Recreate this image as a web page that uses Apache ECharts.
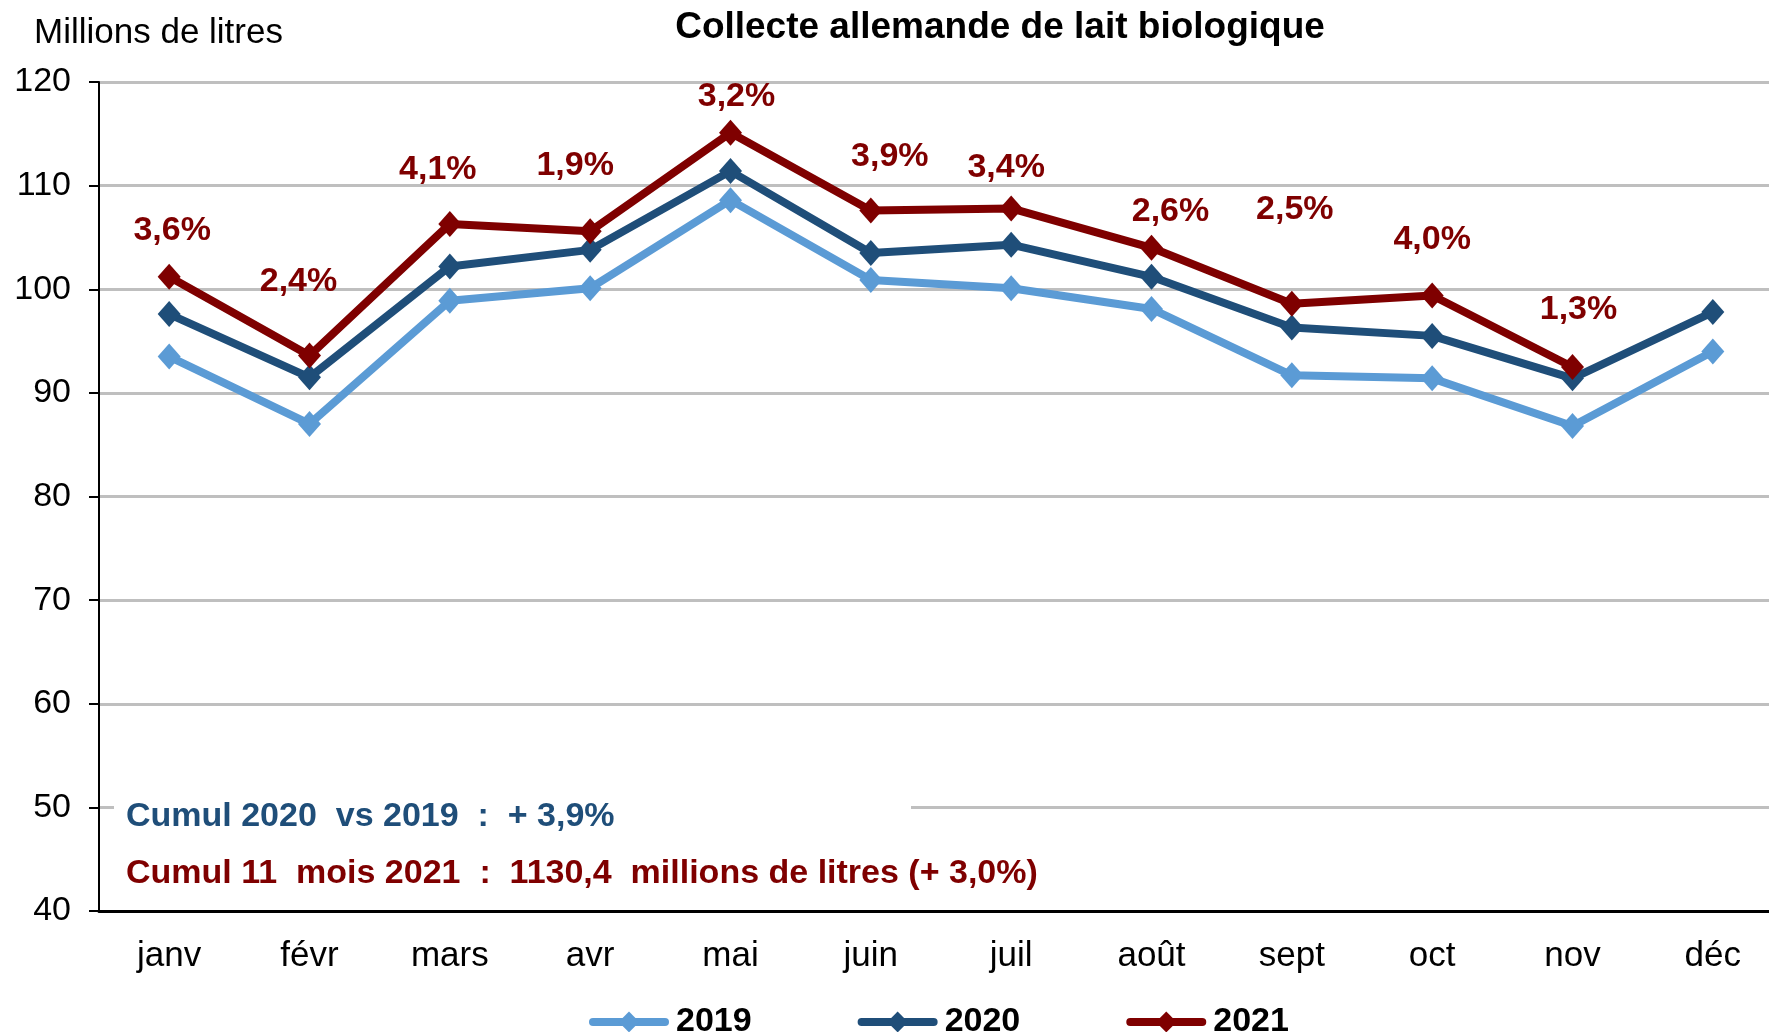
<!DOCTYPE html>
<html>
<head>
<meta charset="utf-8">
<title>Collecte allemande de lait biologique</title>
<script src="https://cdn.jsdelivr.net/npm/echarts@6/dist/echarts.min.js"></script>
<style>
  html, body { margin: 0; padding: 0; background: #fff; overflow: hidden; }
  /* the plot runs a little past the right edge of the picture, as in the source */
  #chart { width: 1783px; height: 1032px; }
</style>
</head>
<body>
<div id="chart"></div>
<script>
// data
const months = ['janv', 'févr', 'mars', 'avr', 'mai', 'juin', 'juil', 'août', 'sept', 'oct', 'nov', 'déc']
const lait2019 = [93.5, 87.0, 98.9, 100.1, 108.6, 100.9, 100.1, 98.1, 91.7, 91.4, 86.8, 94.0]
const lait2020 = [97.6, 91.5, 102.2, 103.8, 111.4, 103.5, 104.3, 101.2, 96.3, 95.5, 91.4, 97.8]
const lait2021 = [101.2, 93.6, 106.3, 105.6, 115.1, 107.6, 107.8, 104.0, 98.6, 99.4, 92.5, null]
const evol2021 = ['3,6%', '2,4%', '4,1%', '1,9%', '3,2%', '3,9%', '3,4%', '2,6%', '2,5%', '4,0%', '1,3%', '']
const yTicks = [40, 50, 60, 70, 80, 90, 100, 110, 120]

// where each % label sits relative to its point (layout only, in px)
const labelShift = [[3, -46], [-11, -74], [-12, -54], [-15, -66], [6, -36], [19, -54],
  [-5, -41], [19, -36], [3, -94], [0, -56], [6, -57], [0, 0]]

const colors = { y2019: '#5B9BD5', y2020: '#1F4E79', y2021: '#7F0000' }
const font = '"Liberation Sans", Arial, sans-serif'

const chart = echarts.init(document.getElementById('chart'))

function lineSeries (name, values, color) {
  return {
    name: name,
    type: 'line',
    data: values,
    symbol: 'diamond',
    symbolSize: [23, 26],
    lineStyle: { color: color, width: 8, cap: 'round', join: 'round' },
    itemStyle: { color: color },
    animation: false
  }
}

const s2021 = lineSeries('2021', lait2021.map((v, i) => ({
  value: v,
  label: {
    show: v !== null,
    formatter: evol2021[i],
    offset: labelShift[i]
  }
})), colors.y2021)
s2021.label = {
  position: 'inside',
  color: colors.y2021,
  fontFamily: font,
  fontWeight: 'bold',
  fontSize: 34
}

chart.setOption({
  backgroundColor: '#fff',
  textStyle: { fontFamily: font },
  title: {
    text: 'Collecte allemande de lait biologique',
    left: 995,
    top: 4,
    textAlign: 'center',
    textStyle: { fontFamily: font, fontSize: 37, fontWeight: 'bold', color: '#000' }
  },
  grid: {
    left: 99,
    top: 82,
    right: 0,
    height: 829
  },
  legend: {
    left: 584,
    top: 1000,
    itemWidth: 72,
    itemHeight: 26,
    itemGap: 106,
    lineStyle: { width: 8, cap: 'round' },
    textStyle: { fontFamily: font, fontSize: 34, fontWeight: 'bold', color: '#000', padding: [0, 0, 0, 6] },
    data: ['2019', '2020', '2021']
  },
  xAxis: {
    type: 'category',
    data: months,
    boundaryGap: true,
    axisLine: { lineStyle: { color: '#000', width: 3 } },
    axisTick: { length: 14, lineStyle: { color: '#000', width: 2 } },
    axisLabel: { color: '#000', fontSize: 35, fontFamily: font, margin: 28 }
  },
  yAxis: {
    type: 'value',
    min: yTicks[0],
    max: yTicks[yTicks.length - 1],
    interval: 10,
    name: 'Millions de litres',
    nameLocation: 'end',
    nameGap: 31,
    nameTextStyle: { color: '#000', fontSize: 35, fontFamily: font, align: 'left', padding: [0, 0, 0, -65] },
    axisLine: { show: true, lineStyle: { color: '#000', width: 2 } },
    axisTick: { show: true, length: 10, lineStyle: { color: '#000', width: 2 } },
    axisLabel: { color: '#000', fontSize: 34, fontFamily: font, margin: 28 },
    splitLine: { lineStyle: { color: '#BFBFBF', width: 3 } }
  },
  graphic: [
    {
      type: 'rect',
      z: 100,
      shape: { x: 114, y: 786, width: 797, height: 112 },
      style: { fill: '#fff' }
    },
    {
      type: 'text',
      z: 101,
      left: 126,
      top: 800,
      style: { text: 'Cumul 2020  vs 2019  :  + 3,9%', fill: colors.y2020, font: 'bold 34px ' + font }
    },
    {
      type: 'text',
      z: 101,
      left: 126,
      top: 857,
      style: { text: 'Cumul 11  mois 2021  :  1130,4  millions de litres (+ 3,0%)', fill: colors.y2021, font: 'bold 34px ' + font }
    }
  ],
  series: [
    lineSeries('2019', lait2019, colors.y2019),
    lineSeries('2020', lait2020, colors.y2020),
    s2021
  ]
})
</script>
</body>
</html>
